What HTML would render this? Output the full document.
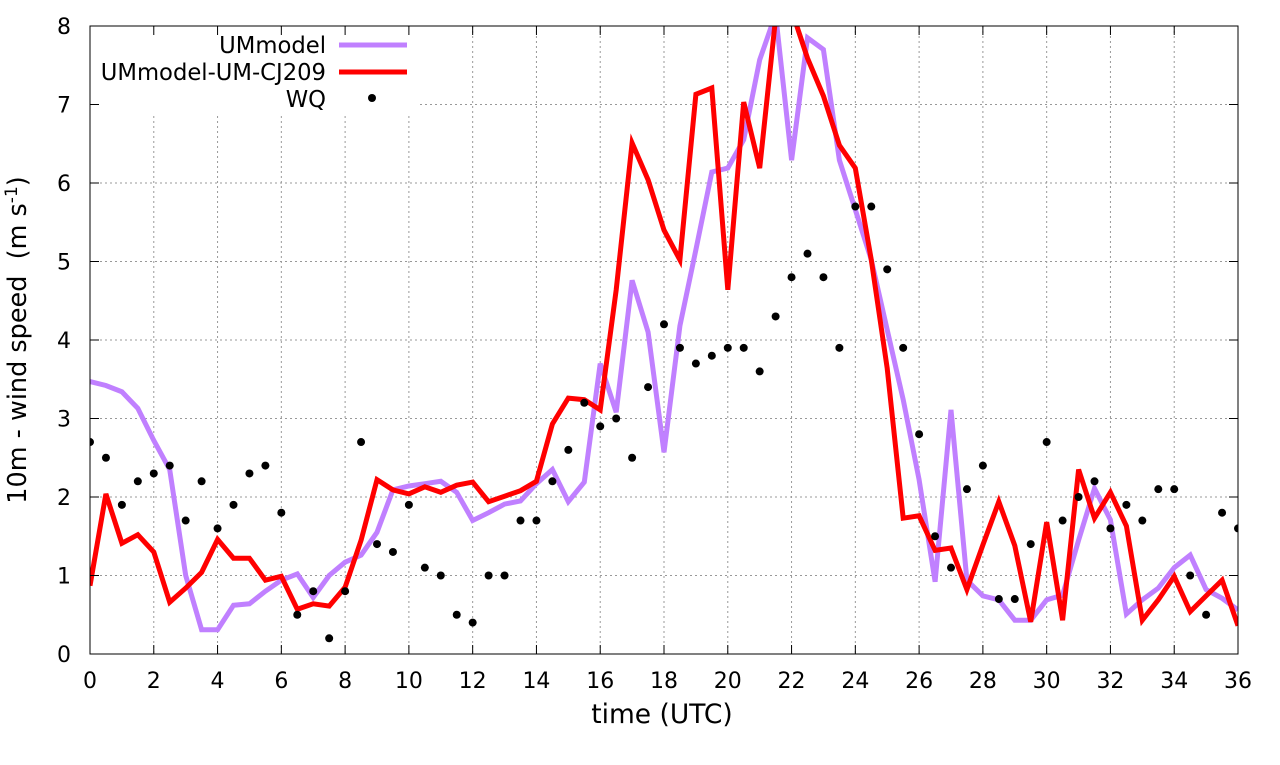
<!DOCTYPE html>
<html><head><meta charset="utf-8"><style>
html,body{margin:0;padding:0;background:#fff;}
svg text{font-family:"DejaVu Sans","Liberation Sans",sans-serif;fill:#000;}
</style></head><body>
<svg id="chart" width="1280" height="760" xmlns="http://www.w3.org/2000/svg">
<defs><clipPath id="clip"><rect x="90" y="26" width="1148" height="628"/></clipPath></defs>
<g id="grid"></g>
<rect x="96" y="27" width="322" height="86" fill="#fff"/>
<g id="series" clip-path="url(#clip)"></g>
<rect x="90" y="26" width="1148" height="628" fill="none" stroke="#000" stroke-width="1"/>
<g id="ticks"></g>
<text x="662" y="723" font-size="26.5" text-anchor="middle">time (UTC)</text>
<text transform="translate(26,340) rotate(-90)" font-size="25.5" text-anchor="middle" xml:space="preserve">10m - wind speed  (m s<tspan font-size="17" dy="-9">-1</tspan><tspan dy="9">)</tspan></text>
<g>
<text x="326" y="53" font-size="22.7" text-anchor="end">UMmodel</text>
<line x1="339" y1="45" x2="407" y2="45" stroke="#c080ff" stroke-width="5"/>
<text x="326" y="80" font-size="22.7" text-anchor="end">UMmodel-UM-CJ209</text>
<line x1="339" y1="72" x2="407" y2="72" stroke="#ff0000" stroke-width="5"/>
<text x="326" y="107" font-size="22.7" text-anchor="end">WQ</text>
<circle cx="372" cy="98" r="4" fill="#000"/>
</g>
</svg>
<script>
const xTicks=[0,2,4,6,8,10,12,14,16,18,20,22,24,26,28,30,32,34,36];
const yTicks=[0,1,2,3,4,5,6,7,8];
const umModel=[3.47,3.42,3.34,3.13,2.72,2.35,1.0,0.31,0.31,0.62,0.64,0.8,0.94,1.02,0.72,1.0,1.17,1.26,1.55,2.09,2.14,2.17,2.2,2.06,1.7,1.8,1.91,1.95,2.17,2.35,1.94,2.19,3.7,3.08,4.76,4.1,2.57,4.18,5.15,6.14,6.19,6.55,7.57,8.15,6.29,7.85,7.7,6.29,5.66,5.02,4.13,3.24,2.22,0.92,3.11,0.94,0.74,0.69,0.43,0.43,0.69,0.75,1.45,2.11,1.71,0.51,0.69,0.84,1.1,1.26,0.82,0.71,0.56];
const umCJ209=[0.87,2.04,1.41,1.52,1.3,0.66,0.84,1.04,1.46,1.22,1.22,0.94,0.99,0.57,0.64,0.61,0.85,1.45,2.22,2.09,2.04,2.13,2.06,2.15,2.19,1.94,2.01,2.08,2.2,2.93,3.26,3.24,3.11,4.64,6.51,6.04,5.4,5.02,7.13,7.21,4.64,7.03,6.19,8.1,8.2,7.59,7.11,6.48,6.19,5.02,3.64,1.73,1.76,1.32,1.35,0.82,1.39,1.94,1.38,0.41,1.68,0.43,2.35,1.73,2.06,1.63,0.43,0.69,0.99,0.54,0.74,0.94,0.36];
const wq=[2.7,2.5,1.9,2.2,2.3,2.4,1.7,2.2,1.6,1.9,2.3,2.4,1.8,0.5,0.8,0.2,0.8,2.7,1.4,1.3,1.9,1.1,1.0,0.5,0.4,1.0,1.0,1.7,1.7,2.2,2.6,3.2,2.9,3.0,2.5,3.4,4.2,3.9,3.7,3.8,3.9,3.9,3.6,4.3,4.8,5.1,4.8,3.9,5.7,5.7,4.9,3.9,2.8,1.5,1.1,2.1,2.4,0.7,0.7,1.4,2.7,1.7,2.0,2.2,1.6,1.9,1.7,2.1,2.1,1.0,0.5,1.8,1.6];
const timeStep=0.5;
const NS='http://www.w3.org/2000/svg';
const X=v=>90+v*(1148/36), Y=v=>654-v*(628/8);
function mk(t,a,p){const e=document.createElementNS(NS,t);for(const k in a)e.setAttribute(k,a[k]);p.appendChild(e);return e;}
const grid=document.getElementById('grid'),ticks=document.getElementById('ticks'),series=document.getElementById('series');
xTicks.forEach(v=>{
 if(v>0&&v<36){const l=mk('line',{x1:X(v),x2:X(v),y1:26,y2:654,stroke:'#999','stroke-dasharray':'2,3','stroke-width':1},grid);
 
 }
 const t1=mk('line',{x1:X(v),x2:X(v),y1:654,y2:645,stroke:'#000'},ticks);
 
 
 const t2=mk('line',{x1:X(v),x2:X(v),y1:26,y2:35,stroke:'#000'},ticks);
 
 
 const tx=mk('text',{x:X(v),y:688,'font-size':22,'text-anchor':'middle'},ticks);tx.textContent=v;
 
 
});
yTicks.forEach(v=>{
 if(v>0&&v<8){const l=mk('line',{x1:90,x2:1238,y1:Y(v),y2:Y(v),stroke:'#999','stroke-dasharray':'2,3','stroke-width':1},grid);
 
 }
 const t1=mk('line',{x1:90,x2:99,y1:Y(v),y2:Y(v),stroke:'#000'},ticks);
 
 
 const t2=mk('line',{x1:1229,x2:1238,y1:Y(v),y2:Y(v),stroke:'#000'},ticks);
 
 
 const tx=mk('text',{x:71,y:Y(v)+8,'font-size':22,'text-anchor':'end'},ticks);tx.textContent=v;
 
 
});
function line(arr,color,name){
 const d=arr.map((v,i)=>(i?'L':'M')+X(i*timeStep).toFixed(1)+','+Y(v).toFixed(1)).join('');
 const p=mk('path',{d:d,fill:'none',stroke:color,'stroke-width':5,'stroke-linejoin':'miter'},series);
 
 
}
line(umModel,'#c080ff','ummodel-line');
line(umCJ209,'#ff0000','ummodel-um-cj209-line');
wq.forEach((v,i)=>{
 const c=mk('circle',{cx:X(i*timeStep),cy:Y(v),r:4,fill:'#000'},series);
 
 
});
</script>
</body></html>
